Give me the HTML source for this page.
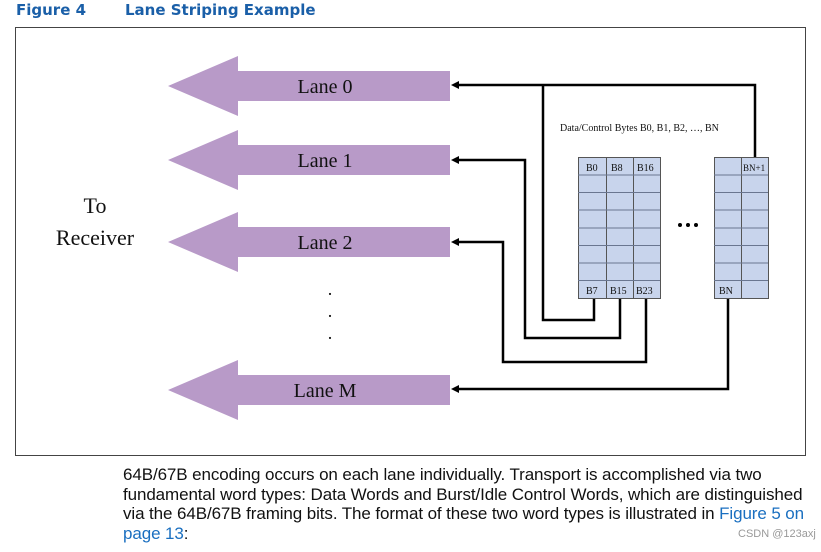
<!DOCTYPE html>
<html><head><style>
body{margin:0;width:821px;height:552px;background:#fff;position:relative;overflow:hidden;font-family:"Liberation Sans",sans-serif}
.hd{position:absolute;top:1px;font:bold 15px "DejaVu Sans","Liberation Sans",sans-serif;color:#1a5fa8}
.p{position:absolute;left:123px;top:465px;font-size:17px;line-height:19.5px;color:#111;letter-spacing:-0.1px;width:720px;white-space:nowrap}
.p span{color:#1a6fc0}
</style></head><body>
<div class="hd" style="left:16px">Figure 4</div>
<div class="hd" style="left:125px">Lane Striping Example</div>
<svg width="821" height="552" style="position:absolute;left:0;top:0">
<rect x="15.5" y="27.5" width="790" height="428" fill="none" stroke="#444" stroke-width="1"/>
<g fill="#b89ac8">
<polygon points="168,86 238,56 238,71 450,71 450,101 238,101 238,116"/>
<polygon points="168,160 238,130 238,145 450,145 450,175 238,175 238,190"/>
<polygon points="168,242 238,212 238,227 450,227 450,257 238,257 238,272"/>
<polygon points="168,390 238,360 238,375 450,375 450,405 238,405 238,420"/>
</g>
<g font-family="Liberation Serif,serif" font-size="20" fill="#111" text-anchor="middle">
<text x="325" y="93">Lane 0</text>
<text x="325" y="167">Lane 1</text>
<text x="325" y="249">Lane 2</text>
<text x="325" y="397">Lane M</text>
<text x="95" y="213" font-size="22">To</text>
<text x="95" y="245" font-size="22">Receiver</text>
<text x="330" y="295" font-size="18">.</text>
<text x="330" y="317" font-size="18">.</text>
<text x="330" y="339" font-size="18">.</text>
</g>
<g fill="none" stroke="#000" stroke-width="2.5">
<polyline points="456,85 755,85 755,157"/>
<polyline points="543,85 543,320 594,320 594,298"/>
<polyline points="456,160 525,160 525,338 620,338 620,298"/>
<polyline points="456,242 503,242 503,362 646,362 646,298"/>
<polyline points="456,389 728,389 728,298"/>
</g>
<g fill="#000">
<polygon points="451,85 459,81 459,89"/>
<polygon points="451,160 459,156 459,164"/>
<polygon points="451,242 459,238 459,246"/>
<polygon points="451,389 459,385 459,393"/>
</g>
<g stroke="#555" stroke-width="1" fill="#c8d4ec">
<rect x="578.5" y="157.5" width="82" height="141"/>
<rect x="714.5" y="157.5" width="54" height="141"/>
<path d="M606.5 157v141M633.5 157v141M741.5 157v141" fill="none"/>
<path d="M578 175h82M578 192.5h82M578 210h82M578 228h82M578 245.5h82M578 263h82M578 280.5h82M714 175h54M714 192.5h54M714 210h54M714 228h54M714 245.5h54M714 263h54M714 280.5h54" stroke="#6a7690" fill="none"/>
</g>
<g font-family="Liberation Serif,serif" font-size="10" fill="#111">
<text x="586" y="171">B0</text><text x="611" y="171">B8</text><text x="637" y="171">B16</text>
<text x="586" y="294">B7</text><text x="610" y="294">B15</text><text x="636" y="294">B23</text>
<text x="743" y="171" font-size="9">BN+1</text><text x="719" y="294">BN</text>
<text x="560" y="131">Data/Control  Bytes B0, B1, B2, …, BN</text>
</g>
<g fill="#000"><circle cx="680" cy="225" r="2"/><circle cx="688" cy="225" r="2"/><circle cx="696" cy="225" r="2"/></g>
</svg>
<div class="p">64B/67B encoding occurs on each lane individually. Transport is accomplished via two<br>fundamental word types: Data Words and Burst/Idle Control Words, which are distinguished<br>via the 64B/67B framing bits. The format of these two word types is illustrated in <span>Figure 5 on<br>page 13</span>:</div>
<div style="position:absolute;left:738px;top:528px;font-size:11px;color:#999">CSDN @123axj</div>
</body></html>
